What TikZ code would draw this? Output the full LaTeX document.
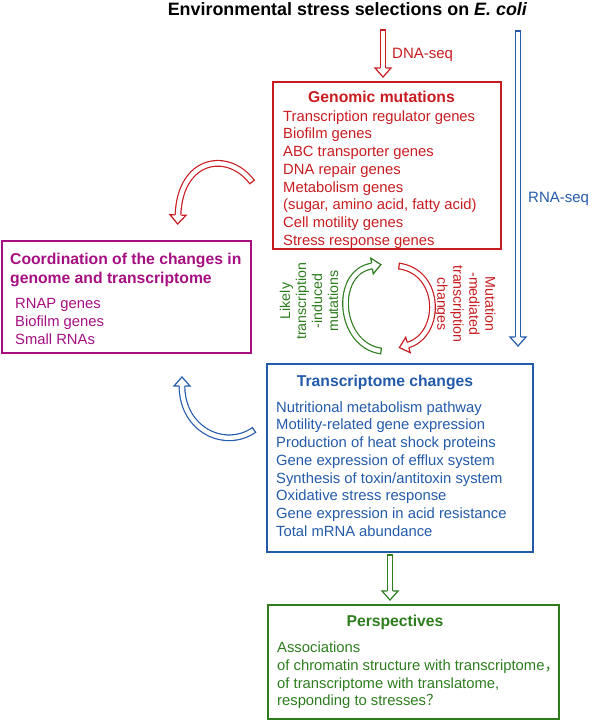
\documentclass[tikz,border=0pt]{standalone}
\usepackage{fontspec}
\setmainfont{Liberation Sans}
\newfontfamily\cjk{Noto Sans CJK SC}
\usetikzlibrary{calc}
\definecolor{cred}{RGB}{200,28,32}
\definecolor{cmag}{RGB}{165,15,130}
\definecolor{cblue}{RGB}{35,90,170}
\definecolor{cgreen}{RGB}{45,125,30}
\tikzset{
 box/.style={draw=#1, line width=1.8pt, inner sep=0pt, outer sep=0pt, anchor=north west},
 hbody/.style={draw=#1, line width=1.2pt, double=white, double distance=4.4pt},
 hhead/.pic={\fill[white] (0,3.4)--(0,8)--(9,0)--(0,-8)--(0,-3.4)--cycle;
     \draw[#1,line width=1.2pt,line join=miter] (0,2.8)--(0,8)--(9,0)--(0,-8)--(0,-2.8);},
 htail/.pic={\draw[#1,line width=1.2pt] (0,-3.4)--(0,3.4);},
 lst/.style={font=\fontsize{14.8}{17.7}\selectfont, align=left, inner sep=0pt, anchor=north west, text=#1},
 ttl/.style={font=\bfseries\fontsize{15.7}{19}\selectfont, inner sep=0pt, anchor=base, text=#1},
 lbl/.style={font=\fontsize{15}{18}\selectfont, inner sep=0pt, anchor=base west, text=#1},
 rot/.style={font=\fontsize{14.2}{16}\selectfont, align=center, inner sep=0pt, text=#1},
}
\begin{document}
\begin{tikzpicture}[x=1pt,y=-1pt]
\useasboundingbox (0,0) rectangle (592,723);
% title
\node[ttl=black, font=\bfseries\fontsize{17.9}{21}\selectfont] (title) at (347.5,15.5) {Environmental stress selections on \textit{E. coli}};
% boxes
\node[box=cred, minimum width=228pt, minimum height=167pt] (gen) at (273,82) {};
\node[box=cmag, minimum width=249pt, minimum height=112pt] (coord) at (2,241) {};
\node[box=cblue, minimum width=266pt, minimum height=188pt] (trans) at (267,364) {};
\node[box=cgreen, minimum width=291pt, minimum height=114pt] (persp) at (268,605) {};
% genomic
\node[ttl=cred] (gent) at (381.5,102) {Genomic mutations};
\node[lst=cred] (genl) at (283,110.3) {Transcription regulator genes\\Biofilm genes\\ABC transporter genes\\DNA repair genes\\Metabolism genes\\ (sugar, amino acid, fatty acid)\\Cell motility genes\\Stress response genes};
% coordination
\node[font=\bfseries\fontsize{15.7}{19}\selectfont, align=left, inner sep=0pt, anchor=north west, text=cmag] (coordt) at (10,252.8) {Coordination of the changes in\\genome and transcriptome};
\node[lst=cmag] (coordl) at (15,298.3) {RNAP genes\\Biofilm genes\\Small RNAs};
% transcriptome
\node[ttl=cblue] (transt) at (385,386) {Transcriptome changes};
\node[lst=cblue] (transl) at (276,401.3) {Nutritional metabolism pathway\\Motility-related gene expression\\Production of heat shock proteins\\Gene expression of efflux system\\Synthesis of toxin/antitoxin system\\Oxidative stress response\\Gene expression in acid resistance\\Total mRNA abundance};
% perspectives
\node[ttl=cgreen] (perspt) at (395,626) {Perspectives};
\node[lst=cgreen, font=\fontsize{14.8}{17.9}\selectfont] (perspl) at (277,641.3) {Associations\\of chromatin structure with transcriptome{\cjk ，}\\of transcriptome with translatome,\\responding to stresses{\cjk ？}};
% labels
\node[lbl=cred] (dnal) at (392,58) {DNA-seq};
\node[lbl=cblue] (rnal) at (528,202) {RNA-seq};
\node[rot=cgreen, rotate=90] (likely) at (309,301) {Likely\\transcription\\-induced\\mutations};
\node[rot=cred, rotate=-90] (mutmed) at (465,304) {Mutation\\-mediated\\transcription\\changes};
% straight hollow arrows
\coordinate (dnaA) at ($(gen.north)+(-4,-52)$);
\coordinate (dnaB) at ($(gen.north)+(-4,-14)$);
\draw[hbody=cred] (dnaA) -- (dnaB);
\pic[rotate=-90] at (dnaA) {htail=cred};
\pic[rotate=-90] at (dnaB) {hhead=cred};
\coordinate (rnaA) at (518,31);
\coordinate (rnaB) at (518,337);
\draw[hbody=cblue] (rnaA) -- (rnaB);
\pic[rotate=-90] at (rnaA) {htail=cblue};
\pic[rotate=-90] at (rnaB) {hhead=cblue};
\coordinate (perA) at ($(trans.south)+(-10,3)$);
\coordinate (perB) at ($(persp.north)+(-23.5,-14)$);
\coordinate (perC) at (perB -| perA);
\draw[hbody=cgreen] (perA) -- (perC);
\pic[rotate=-90] at (perA) {htail=cgreen};
\pic[rotate=-90] at (perC) {hhead=cgreen};
% curved hollow arrows
\coordinate (c1a) at (252,182);
\coordinate (c1b) at (178,215);
\draw[hbody=cred] (c1a) .. controls (228,150) and (180,158) .. (c1b);
\pic[rotate=126.87] at (c1a) {htail=cred};
\pic[rotate=-92.0] at (c1b) {hhead=cred};
\coordinate (c2a) at (254,430);
\coordinate (c2b) at (182,386);
\draw[hbody=cblue] (c2a) .. controls (225,450) and (182,430) .. (c2b);
\pic[rotate=-145.4] at (c2a) {htail=cblue};
\pic[rotate=90] at (c2b) {hhead=cblue};
\coordinate (c3a) at (381,351);
\coordinate (c3b) at (372,266);
\draw[hbody=cgreen] (c3a) .. controls (338,345) and (333,272) .. (c3b);
\pic[rotate=172.06] at (c3a) {htail=cgreen};
\pic[rotate=8.75] at (c3b) {hhead=cgreen};
\coordinate (c4a) at (399,266);
\coordinate (c4b) at (408,345);
\draw[hbody=cred] (c4a) .. controls (442,272) and (442,335) .. (c4b);
\pic[rotate=-7.94] at (c4a) {htail=cred};
\pic[rotate=-163.6] at (c4b) {hhead=cred};
\end{tikzpicture}
\end{document}
